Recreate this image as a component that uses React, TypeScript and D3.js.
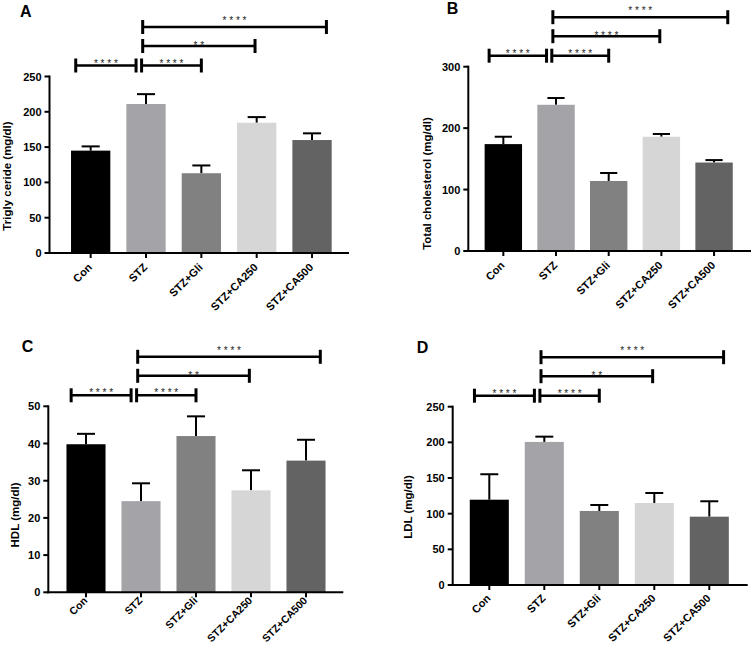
import React from "react";
import * as d3 from "d3";

const categories = ["Con", "STZ", "STZ+Gli", "STZ+CA250", "STZ+CA500"];
const barColors = ["#000000", "#a3a3a8", "#818181", "#d6d6d6", "#636363"];

const trigMean = [145, 211, 113, 184.5, 160];
const trigErr = [6, 14, 11, 8, 9.5];
const cholMean = [174, 238, 114, 186, 144];
const cholErr = [12, 11, 13, 4.5, 4];
const hdlMean = [39.8, 24.5, 42.0, 27.4, 35.4];
const hdlErr = [2.8, 4.8, 5.3, 5.4, 5.6];
const ldlMean = [119.6, 200.6, 103.8, 115, 95.8];
const ldlErr = [35.7, 7.4, 8.4, 14, 21.6];

const trigTicks = [0, 50, 100, 150, 200, 250];
const cholTicks = [0, 100, 200, 300];
const hdlTicks = [0, 10, 20, 30, 40, 50];
const ldlTicks = [0, 50, 100, 150, 200, 250];

const comparePairs = [[0, 1], [1, 2], [1, 3], [1, 4]];
const starsACD = ["****", "****", "**", "****"];
const starsB = ["****", "****", "****", "****"];

// layout (pixels / step fractions)
const bracketOffsets = [[-0.27, -0.18], [-0.08, 0.0], [-0.06, -0.03], [-0.06, 0.26]];
const bracketLevels = [11, 30.5, 49.5];
const starLift = [5, 3, 9];

const FONT = "'Liberation Sans', Arial, Helvetica, sans-serif";

type PanelProps = {
  letter: string;
  letterX: number;
  letterY: number;
  title: string;
  titleX: number;
  titleY: number;
  axisX: number;
  top: number;
  bottom: number;
  axisEnd: number;
  bandStart: number;
  bandEnd: number;
  yMax: number;
  ticks: number[];
  means: number[];
  errs: number[];
  stars: string[];
  labelDrop: number;
  labelSize: number;
};

function Panel(p: PanelProps) {
  const x = d3
    .scaleBand<string>()
    .domain(categories)
    .range([p.bandStart, p.bandEnd])
    .paddingInner(0.29)
    .paddingOuter(0.145);
  const y = d3.scaleLinear().domain([0, p.yMax]).range([p.bottom, p.top]);
  const bw = x.bandwidth();
  const step = x.step();
  const cx = (i: number) => (x(categories[i]) as number) + bw / 2;
  const capW = bw * 0.46;

  return (
    <g>
      <text x={p.letterX} y={p.letterY} fontFamily={FONT} fontWeight="bold" fontSize={16}>
        {p.letter}
      </text>
      <text
        transform={`translate(${p.titleX},${p.titleY}) rotate(-90)`}
        textAnchor="middle"
        dominantBaseline="central"
        fontFamily={FONT}
        fontWeight="bold"
        fontSize={11.5}
      >
        {p.title}
      </text>
      {p.means.map((m, i) => (
        <g key={i}>
          <line x1={cx(i)} x2={cx(i)} y1={y(m)} y2={y(m + p.errs[i])} stroke="#000" strokeWidth={2} />
          <line
            x1={cx(i) - capW / 2}
            x2={cx(i) + capW / 2}
            y1={y(m + p.errs[i])}
            y2={y(m + p.errs[i])}
            stroke="#000"
            strokeWidth={2}
          />
          <rect x={x(categories[i])} y={y(m)} width={bw} height={y(0) - y(m)} fill={barColors[i]} />
        </g>
      ))}
      <line x1={p.axisX} x2={p.axisX} y1={p.top - 1} y2={p.bottom + 1} stroke="#000" strokeWidth={2} />
      {p.ticks.map((t) => (
        <g key={t}>
          <line x1={p.axisX - 5} x2={p.axisX} y1={y(t)} y2={y(t)} stroke="#000" strokeWidth={2} />
          <text
            x={p.axisX - 8}
            y={y(t)}
            textAnchor="end"
            dominantBaseline="central"
            fontFamily={FONT}
            fontWeight="bold"
            fontSize={11}
          >
            {t}
          </text>
        </g>
      ))}
      <line x1={p.axisX - 1} x2={p.axisEnd} y1={p.bottom} y2={p.bottom} stroke="#000" strokeWidth={2} />
      {categories.map((c, i) => (
        <g key={c}>
          <line x1={cx(i)} x2={cx(i)} y1={p.bottom} y2={p.bottom + 5} stroke="#000" strokeWidth={2} />
          <text
            transform={`translate(${cx(i) + 2},${p.bottom + p.labelDrop}) rotate(-45)`}
            textAnchor="end"
            fontFamily={FONT}
            fontWeight="bold"
            fontSize={p.labelSize}
          >
            {c}
          </text>
        </g>
      ))}
      {comparePairs.map(([a, b], k) => {
        const x1 = cx(a) + bracketOffsets[k][0] * step;
        const x2 = cx(b) + bracketOffsets[k][1] * step;
        const lvl = k < 2 ? 0 : k - 1;
        const yy = p.top - bracketLevels[lvl];
        return (
          <g key={k}>
            <line x1={x1} x2={x2} y1={yy} y2={yy} stroke="#000" strokeWidth={2.5} />
            <line x1={x1} x2={x1} y1={yy - 7} y2={yy + 7} stroke="#000" strokeWidth={3} />
            <line x1={x2} x2={x2} y1={yy - 7} y2={yy + 7} stroke="#000" strokeWidth={3} />
            <text
              x={(x1 + x2) / 2}
              y={yy - starLift[lvl] + 6}
              textAnchor="middle"
              fontFamily={FONT}
              fontSize={10}
              fill="#222"
            >
              {p.stars[k].split("").join(" ")}
            </text>
          </g>
        );
      })}
    </g>
  );
}

export default function App() {
  return (
    <svg width={751} height={647} style={{ display: "block", position: "absolute", left: 0, top: 0 }}>
      <rect width={751} height={647} fill="#fff" />
      <Panel
        letter="A" letterX={20} letterY={16.7}
        title="Trigly ceride (mg/dl)" titleX={6.7} titleY={176}
        axisX={49.5} top={76.5} bottom={253} axisEnd={349}
        bandStart={63} bandEnd={339.7}
        yMax={250} ticks={trigTicks} means={trigMean} errs={trigErr} stars={starsACD}
        labelDrop={15} labelSize={11}
      />
      <Panel
        letter="B" letterX={446.7} letterY={14}
        title="Total cholesterol (mg/dl)" titleX={426.7} titleY={183.5}
        axisX={468.3} top={66.7} bottom={251} axisEnd={751}
        bandStart={477} bandEnd={740.4}
        yMax={300} ticks={cholTicks} means={cholMean} errs={cholErr} stars={starsB}
        labelDrop={15} labelSize={11}
      />
      <Panel
        letter="C" letterX={21.7} letterY={351.7}
        title="HDL (mg/dl)" titleX={15} titleY={515}
        axisX={48.3} top={406.3} bottom={592.3} axisEnd={343.3}
        bandStart={58.5} bandEnd={333.5}
        yMax={50} ticks={hdlTicks} means={hdlMean} errs={hdlErr} stars={starsACD}
        labelDrop={9} labelSize={10.5}
      />
      <Panel
        letter="D" letterX={416.7} letterY={353.3}
        title="LDL (mg/dl)" titleX={408.3} titleY={507}
        axisX={452.7} top={406.7} bottom={585} axisEnd={747.7}
        bandStart={461.8} bandEnd={736.8}
        yMax={250} ticks={ldlTicks} means={ldlMean} errs={ldlErr} stars={starsACD}
        labelDrop={14} labelSize={11}
      />
    </svg>
  );
}
